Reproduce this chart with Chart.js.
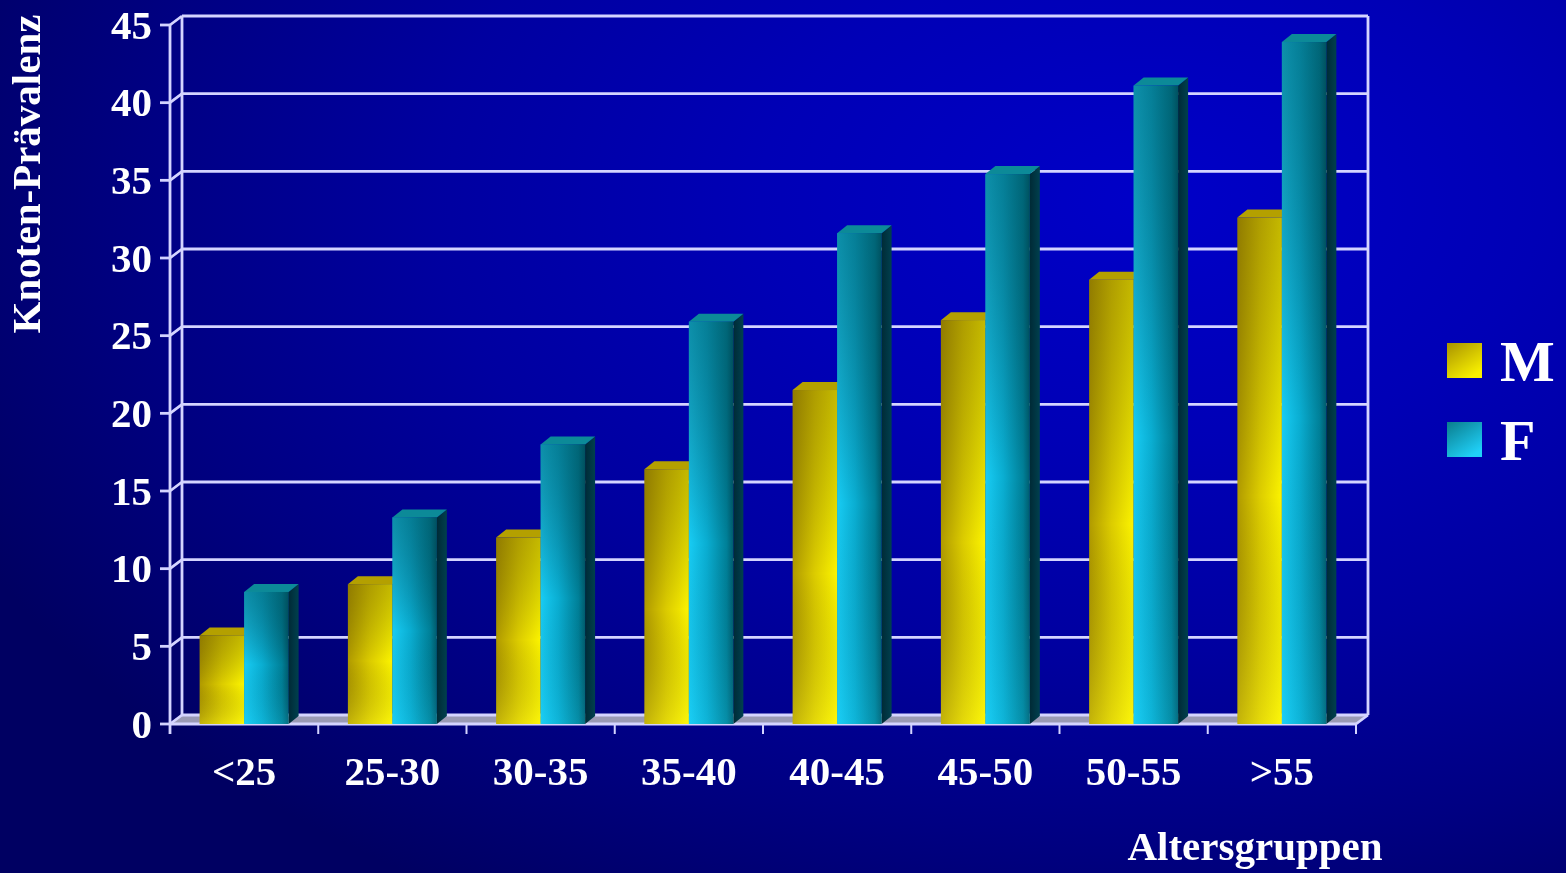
<!DOCTYPE html>
<html>
<head>
<meta charset="utf-8">
<script src="https://cdn.jsdelivr.net/npm/chart.js@4.4.1/dist/chart.umd.min.js"></script>
<style>
  html, body {
    margin: 0; padding: 0; width: 1566px; height: 873px; overflow: hidden;
    background: radial-gradient(ellipse 1300px 820px at 1150px 200px, #0000c8 0%, #0000b6 30%, #0000a0 55%, #000082 78%, #000062 100%);
  }
  #wrap { position: relative; width: 1566px; height: 873px; }
</style>
</head>
<body>
<div id="wrap"><canvas id="chart" width="1566" height="873"></canvas></div>
<script>
// Age groups and nodule prevalence per sex
const categories = ['<25', '25-30', '30-35', '35-40', '40-45', '45-50', '50-55', '>55'];
const maleValues = [5.7, 9.0, 12.0, 16.4, 21.5, 26.0, 28.6, 32.6];
const femaleValues = [8.5, 13.3, 18.0, 25.9, 31.6, 35.4, 41.1, 43.9];
const seriesLabels = ['M', 'F'];
const yTickValues = [0, 5, 10, 15, 20, 25, 30, 35, 40, 45];
const yTitle = 'Knoten-Prävalenz';
const xTitle = 'Altersgruppen';

const SERIF = "'Liberation Serif', 'Times New Roman', serif";
const WALL_DX = 12, WALL_DY = 9;   // depth of the back wall
const BAR_DX = 10, BAR_DY = 8;     // depth of each bar
const LINE = '#d4d4ff';

const palettes = [
  { // yellow
    front: [[0, '#b09a00'], [0.5, '#dccc00'], [1, '#fcf400']],
    shadeTop: 'rgba(80,60,0,0.32)', glowBottom: 'rgba(255,255,40,0.25)',
    top: '#b4a000', side: ['#6a5e00', '#807200'],
    legend: [[0, '#a89200'], [1, '#f8f000']]
  },
  { // cyan
    front: [[0, '#18ccf4'], [0.4, '#0aaed2'], [0.85, '#008098'], [1, '#005c6e']],
    shadeTop: 'rgba(0,70,80,0.45)', glowBottom: 'rgba(40,220,255,0.15)',
    top: '#0c8a98', side: ['#002a36', '#00404e'],
    legend: [[0, '#0a7c8c'], [1, '#20d0f8']]
  }
];

function line(ctx, x1, y1, x2, y2) {
  ctx.beginPath(); ctx.moveTo(x1, y1); ctx.lineTo(x2, y2); ctx.stroke();
}

function drawBar(ctx, l, r, top, base, p) {
  // side face
  const sg = ctx.createLinearGradient(r, 0, r + BAR_DX, 0);
  sg.addColorStop(0, p.side[0]); sg.addColorStop(1, p.side[1]);
  ctx.fillStyle = sg;
  ctx.beginPath();
  ctx.moveTo(r, base); ctx.lineTo(r + BAR_DX, base - BAR_DY);
  ctx.lineTo(r + BAR_DX, top - BAR_DY); ctx.lineTo(r, top); ctx.closePath(); ctx.fill();
  // top face
  ctx.fillStyle = p.top;
  ctx.beginPath();
  ctx.moveTo(l, top); ctx.lineTo(r, top);
  ctx.lineTo(r + BAR_DX, top - BAR_DY); ctx.lineTo(l + BAR_DX, top - BAR_DY); ctx.closePath(); ctx.fill();
  // front face
  const fg = ctx.createLinearGradient(l, 0, r, 0);
  p.front.forEach(([o, c]) => fg.addColorStop(o, c));
  ctx.fillStyle = fg;
  ctx.fillRect(l, top, r - l, base - top);
  const vg = ctx.createLinearGradient(0, top, 0, base);
  vg.addColorStop(0, p.shadeTop); vg.addColorStop(0.55, 'rgba(0,0,0,0)'); vg.addColorStop(1, p.glowBottom);
  ctx.fillStyle = vg;
  ctx.fillRect(l, top, r - l, base - top);
}

const depthPlugin = {
  id: 'depth3d',
  beforeDatasetsDraw(chart) {
    const { ctx, chartArea: a, scales: { x, y } } = chart;
    const topY = y.getPixelForValue(yTickValues[yTickValues.length - 1]);
    ctx.save();
    // floor
    ctx.fillStyle = '#9a9ab4';
    ctx.beginPath();
    ctx.moveTo(a.left, a.bottom); ctx.lineTo(a.right, a.bottom);
    ctx.lineTo(a.right + WALL_DX, a.bottom - WALL_DY); ctx.lineTo(a.left + WALL_DX, a.bottom - WALL_DY);
    ctx.closePath(); ctx.fill();
    ctx.strokeStyle = LINE; ctx.lineWidth = 2.8;
    // back wall grid and the links to the front axis
    yTickValues.forEach(v => {
      const py = y.getPixelForValue(v);
      line(ctx, a.left + WALL_DX, py - WALL_DY, a.right + WALL_DX, py - WALL_DY);
      line(ctx, a.left - 10, py, a.left, py);
      line(ctx, a.left, py, a.left + WALL_DX, py - WALL_DY);
    });
    line(ctx, a.left + WALL_DX, topY - WALL_DY, a.left + WALL_DX, a.bottom - WALL_DY);
    line(ctx, a.right + WALL_DX, topY - WALL_DY, a.right + WALL_DX, a.bottom - WALL_DY);
    // front axes
    line(ctx, a.left, topY, a.left, a.bottom + 10);
    line(ctx, a.left, a.bottom, a.right, a.bottom);
    line(ctx, a.right, a.bottom, a.right + WALL_DX, a.bottom - WALL_DY);
    // category boundary ticks
    ctx.lineWidth = 2;
    for (let i = 1; i <= categories.length; i++) {
      const bx = i < categories.length
        ? (x.getPixelForValue(i - 1) + x.getPixelForValue(i)) / 2
        : a.right;
      line(ctx, bx, a.bottom, bx, a.bottom + 10);
    }
    ctx.restore();
  },
  beforeDatasetDraw() { return false; },
  afterDatasetsDraw(chart) {
    const ctx = chart.ctx;
    const metas = chart.data.datasets.map((d, i) => chart.getDatasetMeta(i));
    ctx.save();
    for (let j = 0; j < categories.length; j++) {
      metas.forEach((meta, di) => {
        const { x: cx, y: top, base, width } = meta.data[j].getProps(['x', 'y', 'base', 'width'], true);
        drawBar(ctx, cx - width / 2, cx + width / 2, top, base, palettes[di]);
      });
    }
    ctx.restore();
  },
  afterDraw(chart) {
    const ctx = chart.ctx;
    ctx.save();
    ctx.fillStyle = '#ffffff';
    // axis titles
    ctx.font = `bold 41px ${SERIF}`;
    ctx.textAlign = 'center'; ctx.textBaseline = 'middle';
    ctx.save();
    ctx.translate(29, 174); ctx.rotate(-Math.PI / 2);
    ctx.fillText(yTitle, 0, 0);
    ctx.restore();
    ctx.textBaseline = 'alphabetic';
    ctx.fillText(xTitle, 1255, 860);
    // legend
    chart.data.datasets.forEach((ds, i) => {
      const sy = 343 + i * 79;
      const g = ctx.createLinearGradient(1447, sy, 1470, sy + 35);
      palettes[i].legend.forEach(([o, c]) => g.addColorStop(o, c));
      ctx.fillStyle = g;
      ctx.fillRect(1447, sy, 35, 35);
      ctx.fillStyle = '#ffffff';
      ctx.font = `bold 58px ${SERIF}`;
      ctx.textAlign = 'left';
      ctx.fillText(ds.label, 1500, sy + 38);
    });
    ctx.restore();
  }
};

new Chart(document.getElementById('chart'), {
  type: 'bar',
  data: {
    labels: categories,
    datasets: [
      { label: seriesLabels[0], data: maleValues, backgroundColor: '#e8e000' },
      { label: seriesLabels[1], data: femaleValues, backgroundColor: '#10b8e0' }
    ]
  },
  options: {
    responsive: false,
    animation: false,
    devicePixelRatio: 1,
    layout: { padding: { top: 25, right: 210, left: 0, bottom: 0 } },
    datasets: { bar: { categoryPercentage: 0.6, barPercentage: 1.0 } },
    plugins: { legend: { display: false }, tooltip: { enabled: false } },
    scales: {
      x: {
        grid: { display: false, drawTicks: false },
        border: { display: false },
        ticks: { color: '#ffffff', font: { family: SERIF, size: 41, weight: 'bold' }, padding: 26 },
        afterFit: s => { s.height = 149; s.paddingLeft = 0; s.paddingRight = 0; }
      },
      y: {
        min: 0, max: 45,
        afterBuildTicks: s => { s.ticks = yTickValues.map(v => ({ value: v })); },
        grid: { display: false, drawTicks: false },
        border: { display: false },
        ticks: { color: '#ffffff', font: { family: SERIF, size: 41, weight: 'bold' }, padding: 18, labelOffset: 3 },
        afterFit: s => { s.width = 170; s.paddingTop = 0; s.paddingBottom = 0; }
      }
    }
  },
  plugins: [depthPlugin]
});
</script>
</body>
</html>
